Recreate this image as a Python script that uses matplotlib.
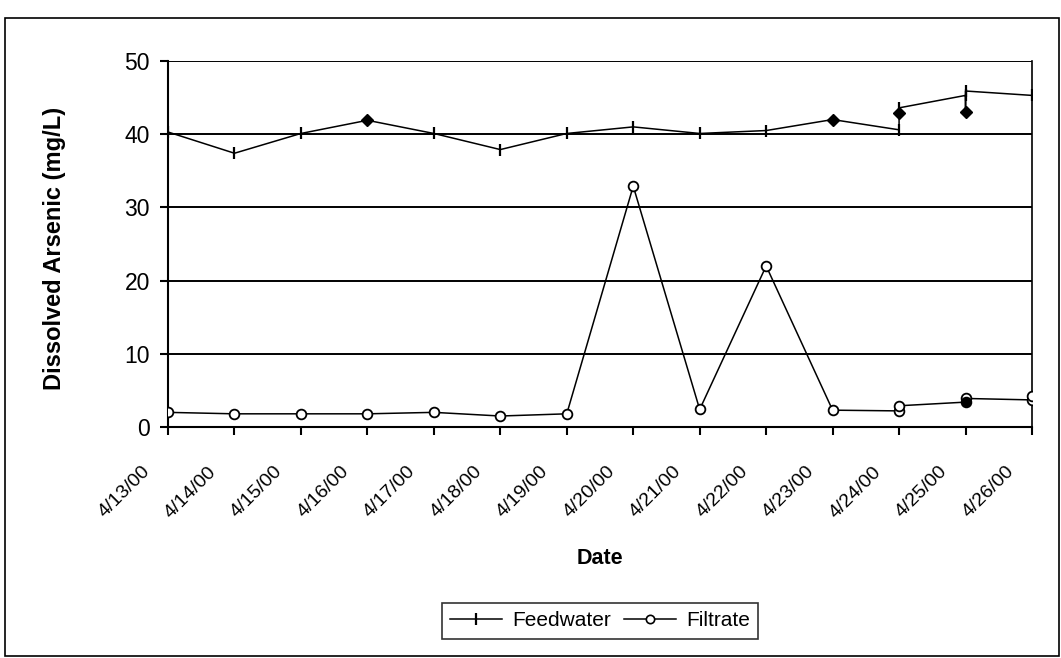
import matplotlib
matplotlib.use("Agg")
import matplotlib.pyplot as plt
from matplotlib.lines import Line2D
from matplotlib.patches import Rectangle
from matplotlib.transforms import ScaledTranslation

plt.rcParams['font.family'] = ['Liberation Sans', 'DejaVu Sans']

# ---- data ----
dates = ['4/13/00', '4/14/00', '4/15/00', '4/16/00', '4/17/00', '4/18/00', '4/19/00',
         '4/20/00', '4/21/00', '4/22/00', '4/23/00', '4/24/00', '4/25/00', '4/26/00']

feed_day = [0, 1, 2, 3, 4, 5, 6, 7, 8, 9, 10, 11, 11, 11, 12, 12, 12, 13]
feed_val = [40.3, 37.4, 40.1, 41.9, 40.1, 37.9, 40.1, 41.0, 40.1, 40.5, 42.0,
            40.6, 42.9, 43.6, 45.3, 43.0, 45.9, 45.3]
feed_diamond = [3, 10, 12, 15]

filt_day = [0, 1, 2, 3, 4, 5, 6, 7, 8, 9, 10, 11, 11, 12, 12, 13, 13]
filt_val = [2.0, 1.8, 1.8, 1.8, 2.0, 1.5, 1.8, 32.9, 2.4, 22.0, 2.3,
            2.2, 2.9, 3.4, 3.9, 3.7, 4.2]
filt_filled = [13]

yticks = [0, 10, 20, 30, 40, 50]

# ---- figure ----
W, H = 1061, 658
fig = plt.figure(figsize=(W / 100, H / 100), dpi=100)
ax = fig.add_axes([168 / W, 1 - 427 / H, (1032 - 168) / W, (427 - 61) / H])

# gridlines
for v in yticks[1:]:
    ax.axhline(v, color='black', lw=1.4, zorder=1)

# feedwater
ax.plot(feed_day, feed_val, color='black', lw=1.1, zorder=3)
tick_idx = [i for i in range(len(feed_day)) if i not in feed_diamond]
ax.plot([feed_day[i] for i in tick_idx], [feed_val[i] for i in tick_idx],
        ls='none', marker='|', ms=8, mew=1.6, color='black', zorder=4)
ax.plot([feed_day[i] for i in feed_diamond], [feed_val[i] for i in feed_diamond],
        ls='none', marker='D', ms=6.5, color='black', zorder=4)

# filtrate
ax.plot(filt_day, filt_val, color='black', lw=1.1, zorder=3)
open_idx = [i for i in range(len(filt_day)) if i not in filt_filled]
ax.plot([filt_day[i] for i in open_idx], [filt_val[i] for i in open_idx],
        ls='none', marker='o', ms=7, mew=1.3, mfc='white', mec='black', zorder=4)
ax.plot([filt_day[i] for i in filt_filled], [filt_val[i] for i in filt_filled],
        ls='none', marker='o', ms=7, mew=1.3, mfc='black', mec='black', zorder=4)

ax.set_xlim(0, len(dates) - 1)
ax.set_ylim(0, 50)
ax.set_yticks(yticks)
ax.set_yticklabels([str(v) for v in yticks], fontsize=16.5)
ax.set_xticks(range(len(dates)))
ax.set_xticklabels(dates, fontsize=14, rotation=45, ha='right', va='top',
                   rotation_mode='anchor')
ax.tick_params(axis='both', direction='out', length=6, width=1.5, color='black')
ax.tick_params(axis='x', pad=20)
ax.tick_params(axis='y', pad=7)
shift = ScaledTranslation(-0.27, 0, fig.dpi_scale_trans)
for lab in ax.get_xticklabels():
    lab.set_transform(lab.get_transform() + shift)

for s in ['left', 'bottom', 'right']:
    ax.spines[s].set_linewidth(1.5)
    ax.spines[s].set_color('black')
ax.spines['top'].set_visible(False)
ax.spines['right'].set_linewidth(1.2)

fig.text(600 / W, 1 - 558 / H, 'Date', fontsize=15.5, fontweight='bold', ha='center', va='center')
fig.text(55 / W, 1 - 248 / H, 'Dissolved Arsenic (mg/L)', fontsize=17, fontweight='bold',
         ha='center', va='center', rotation=90)

handles = [
    Line2D([], [], color='black', lw=1.1, marker='|', ms=8, mew=1.6),
    Line2D([], [], color='black', lw=1.1, marker='o', ms=6, mew=1.2, mfc='white', mec='black'),
]
leg = fig.legend(handles, ['Feedwater', 'Filtrate'], loc='center',
                 bbox_to_anchor=(600 / W, 1 - 621 / H), ncol=2, fontsize=15,
                 frameon=True, fancybox=False, shadow=False, handlelength=2.5,
                 handletextpad=0.5, columnspacing=0.6, borderpad=0.4)
leg.get_frame().set_edgecolor('black')
leg.get_frame().set_linewidth(1.2)

# outer chart border
fig.patches.append(Rectangle((5 / W, 2 / H), (1059 - 5) / W, (656 - 18) / H,
                             transform=fig.transFigure, fill=False, ec='black', lw=1.2))

fig.savefig('out.png', dpi=100)
